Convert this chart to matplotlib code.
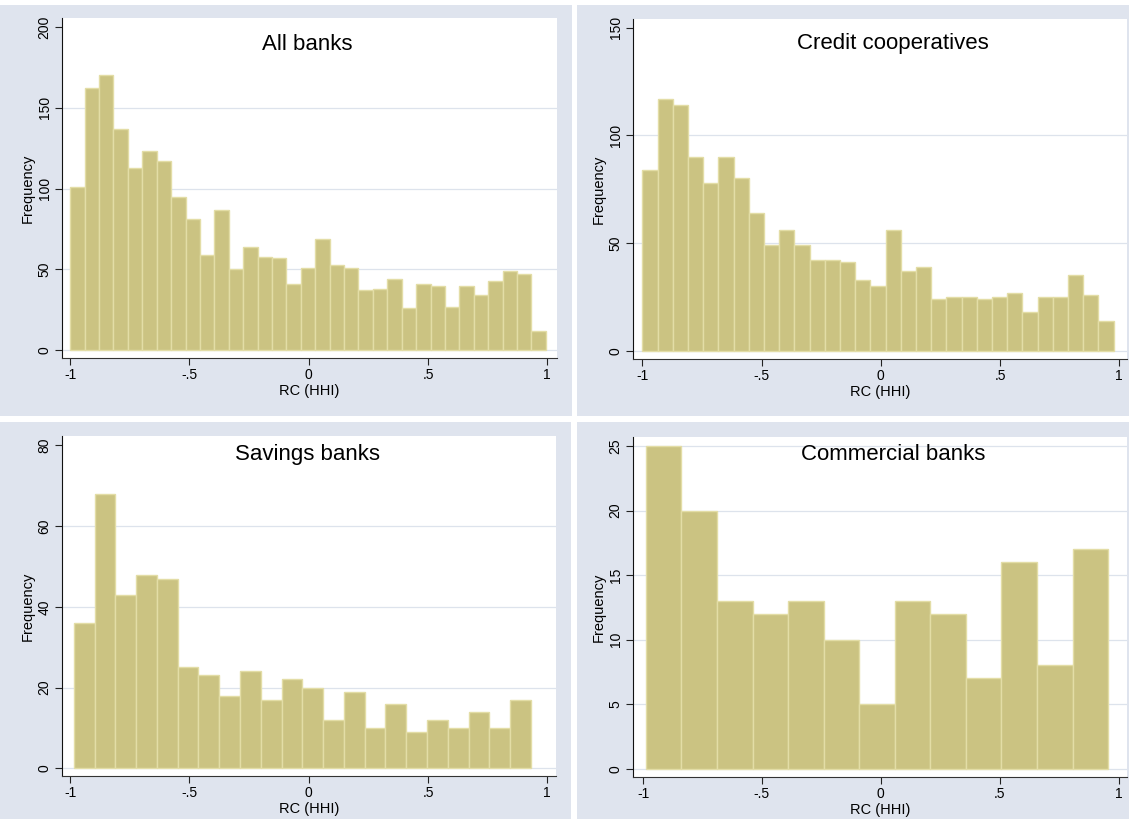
import numpy as np
import matplotlib
matplotlib.use("Agg")
import matplotlib.pyplot as plt
from matplotlib.patches import Rectangle

plt.rcParams["font.family"] = ["Liberation Sans", "DejaVu Sans"]

# ---- histogram data: bin range and counts per bank group ----
titles = ["All banks", "Credit cooperatives", "Savings banks", "Commercial banks"]

all_banks_range = (-1.0, 0.994)
all_banks_counts = [101, 162, 170, 137, 113, 123, 117, 95, 81, 59, 87, 50, 64, 58,
                    57, 41, 51, 69, 53, 51, 37, 38, 44, 26, 41, 40, 27, 40, 34, 43,
                    49, 47, 12]

coop_range = (-1.0, 0.976)
coop_counts = [84, 117, 114, 90, 78, 90, 80, 64, 49, 56, 49, 42, 42, 41, 33, 30,
               56, 37, 39, 24, 25, 25, 24, 25, 27, 18, 25, 25, 35, 26, 14]

savings_range = (-0.985, 0.931)
savings_counts = [36, 68, 43, 48, 47, 25, 23, 18, 24, 17, 22, 20, 12, 19, 10, 16,
                  9, 12, 10, 14, 10, 17]

commercial_range = (-0.988, 0.956)
commercial_counts = [25, 20, 13, 12, 13, 10, 5, 13, 12, 7, 16, 8, 17]

x_ticks = [-1, -0.5, 0, 0.5, 1]
x_ticklabels = ["-1", "-.5", "0", ".5", "1"]
y_ticks_all = [0, 50, 100, 150, 200]
y_ticks_coop = [0, 50, 100, 150]
y_ticks_savings = [0, 20, 40, 60, 80]
y_ticks_commercial = [0, 5, 10, 15, 20, 25]

# ---- styling ----
W, H = 1134, 819
BG = "#DFE4EE"
GRID = "#DDE3EC"
BAR = "#CBC382"
BAR_EDGE = "#E3DDA6"

fig = plt.figure(figsize=(W / 100, H / 100), dpi=100)
fig.patch.set_facecolor("white")


def add_panel(bg_box, plot_box, xpx, ypx, ytop, rng, counts, yticks, title,
              title_pos, grid_top=False):
    # graph region background
    bx0, by0, bx1, by1 = bg_box
    fig.add_artist(Rectangle((bx0 / W, 1 - by1 / H), (bx1 - bx0) / W, (by1 - by0) / H,
                             transform=fig.transFigure, facecolor=BG,
                             edgecolor="none", zorder=0))
    L, T, R, B = plot_box
    ax = fig.add_axes([L / W, 1 - B / H, (R - L) / W, (B - T) / H])
    ax.set_facecolor("white")

    # map pixel references to data limits
    xs = (xpx[1] - xpx[0]) / 2.0
    ax.set_xlim(-1 + (L - xpx[0]) / xs, -1 + (R - xpx[0]) / xs)
    ys = (ypx[0] - ypx[1]) / ytop
    ax.set_ylim(-(B - ypx[0]) / ys, (ypx[0] - T) / ys)

    edges = np.linspace(rng[0], rng[1], len(counts) + 1)
    ax.bar(edges[:-1], counts, width=np.diff(edges), align="edge",
           color=BAR, edgecolor=BAR_EDGE, linewidth=1.0, zorder=2)

    grid_vals = yticks if grid_top else yticks[:-1]
    for yv in grid_vals:
        ax.axhline(yv, color=GRID, linewidth=0.9, zorder=1)

    for s in ["top", "right"]:
        ax.spines[s].set_visible(False)
    ax.spines["left"].set_color("#111111")
    ax.spines["bottom"].set_color("#333333")
    ax.spines["left"].set_linewidth(0.8)
    ax.spines["bottom"].set_linewidth(0.8)

    ax.set_xticks(x_ticks)
    ax.set_xticklabels(x_ticklabels)
    ax.set_yticks(yticks)
    ax.set_yticklabels([str(v) for v in yticks], rotation=90, va="center")
    ax.tick_params(axis="both", direction="out", length=5, width=0.8,
                   colors="#222222", labelsize=10, labelcolor="black")
    ax.tick_params(axis="x", pad=2.5)
    ax.tick_params(axis="y", pad=2.5)

    ax.set_xlabel("RC (HHI)", fontsize=10.5, labelpad=1)
    ax.set_ylabel("Frequency", fontsize=10.5, labelpad=2)

    fig.text(title_pos[0] / W, 1 - title_pos[1] / H, title, fontsize=16,
             ha="center", va="baseline")
    return ax


add_panel((0, 5, 572, 416), (62, 18, 557, 358), (70.2, 547.3), (350.3, 27.0), 200,
          all_banks_range, all_banks_counts, y_ticks_all, titles[0], (307.5, 49.5))
add_panel((577, 5, 1129, 416), (633, 19, 1127, 359), (642.3, 1119.3), (350.7, 27.7), 150,
          coop_range, coop_counts, y_ticks_coop, titles[1], (893, 49.5))
add_panel((0, 422, 571, 819), (62, 436, 556, 776), (70.2, 547.3), (768.3, 445.3), 80,
          savings_range, savings_counts, y_ticks_savings, titles[2], (307.6, 460))
add_panel((577, 422, 1129, 819), (633, 437, 1127, 777), (643.0, 1118.6), (768.7, 446.0), 25,
          commercial_range, commercial_counts, y_ticks_commercial, titles[3], (893.4, 460.5),
          grid_top=True)

fig.savefig("out.png", dpi=100)
